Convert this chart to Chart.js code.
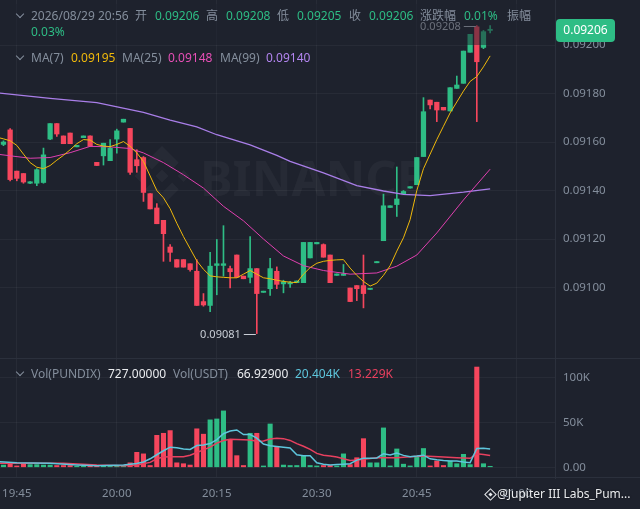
<!DOCTYPE html>
<html>
<head>
<meta charset="utf-8">
<script src="https://cdn.jsdelivr.net/npm/chart.js@4.4.1/dist/chart.umd.min.js"></script>
<style>
  html, body { margin: 0; padding: 0; background: #1e222d; }
  #wrap { position: relative; width: 640px; height: 509px; overflow: hidden; background: #1e222d;
          font-family: "Noto Sans", "Noto Sans CJK SC", sans-serif; }
  #priceCanvas { position: absolute; left: 0; top: 0; }
  #volCanvas { position: absolute; left: 0; top: 358px; }
  .t { position: absolute; font-size: 12px; line-height: 14px; white-space: nowrap; }
  .g { color: #848e9c; }
  .up { color: #2ebd85; }
  .w { color: #eaecef; }
  .chev { position: absolute; width: 5px; height: 5px; border-right: 1.3px solid #848e9c;
          border-bottom: 1.3px solid #848e9c; transform: rotate(45deg); }
  .hline { position: absolute; left: 0; width: 640px; height: 1px; background: #2b303c; }
  #shade { position: absolute; left: 0; top: 4px; width: 540px; height: 41px; background: rgba(30, 34, 45, 0.5); }
</style>
</head>
<body>
<div id="wrap">
  <canvas id="priceCanvas" width="640" height="358"></canvas>
  <canvas id="volCanvas" width="640" height="151"></canvas>
  <div class="hline" style="top:358px"></div>
  <div class="hline" style="top:477px"></div>

  <div id="shade"></div>
  <div class="chev" style="left:17px;top:11px"></div>
  <span class="t g" style="left:31px;top:9px">2026/08/29 20:56</span>
  <span class="t g" style="left:135px;top:9px">开</span>
  <span class="t up" style="left:155px;top:9px">0.09206</span>
  <span class="t g" style="left:206px;top:9px">高</span>
  <span class="t up" style="left:226px;top:9px">0.09208</span>
  <span class="t g" style="left:277px;top:9px">低</span>
  <span class="t up" style="left:297px;top:9px">0.09205</span>
  <span class="t g" style="left:349px;top:9px">收</span>
  <span class="t up" style="left:369px;top:9px">0.09206</span>
  <span class="t g" style="left:420px;top:9px">涨跌幅</span>
  <span class="t up" style="left:464px;top:9px">0.01%</span>
  <span class="t g" style="left:507px;top:9px">振幅</span>
  <span class="t up" style="left:31px;top:25px">0.03%</span>

  <div class="chev" style="left:17px;top:53px"></div>
  <span class="t g" style="left:31px;top:51px">MA(7)</span>
  <span class="t" style="left:71px;top:51px;color:#f0b90b">0.09195</span>
  <span class="t g" style="left:122px;top:51px">MA(25)</span>
  <span class="t" style="left:168px;top:51px;color:#e84fb7">0.09148</span>
  <span class="t g" style="left:220px;top:51px">MA(99)</span>
  <span class="t" style="left:266px;top:51px;color:#b385f0">0.09140</span>

  <div class="chev" style="left:17px;top:369px"></div>
  <span class="t g" style="left:31px;top:367px">Vol(PUNDIX)</span>
  <span class="t w" style="left:108px;top:367px">727.00000</span>
  <span class="t g" style="left:173px;top:367px">Vol(USDT)</span>
  <span class="t w" style="left:237px;top:367px">66.92900</span>
  <span class="t" style="left:295px;top:367px;color:#5ec6dc">20.404K</span>
  <span class="t" style="left:348px;top:367px;color:#e8405f">13.229K</span>

  <div style="position:absolute;left:486px;top:490px;width:7px;height:7px;border:1.4px solid #eaecef;transform:rotate(45deg)"></div>
  <div style="position:absolute;left:489px;top:493px;width:3px;height:3px;background:#eaecef;transform:rotate(45deg)"></div>
  <span class="t w" style="left:497px;top:487px;text-shadow:0 0 2px rgba(0,0,0,0.7)">@Jupiter III Labs_Pum...</span>
</div>

<script>
// 1분봉, 인덱스 0 = 19:43
const opens  = [0.09159,0.09165,0.09148,0.09147,0.09143,0.09143,0.091433,0.091612,0.091676,0.091625,
  0.091637,0.09158,0.091618,0.091625,0.091516,0.091543,0.091523,0.091612,0.091682,0.091656,
  0.091527,0.091536,0.091387,0.091328,0.091277,0.091167,0.091115,0.091115,0.091098,0.091067,
  0.090942,0.090926,0.091091,0.091091,0.091078,0.091134,0.091047,0.091042,0.091078,0.09098,
  0.090995,0.091067,0.091015,0.091015,0.09102,0.09102,0.091122,0.09118,0.091177,0.091134,
  0.09105,0.09105,0.090998,0.091008,0.091008,0.090992,0.091102,0.091193,0.09133,0.091342,
  0.091387,0.09141,0.091424,0.09154,0.091773,0.091764,0.091743,0.091728,0.091821,0.091842,
  0.09197,0.092075,0.09199,0.09206];
const highs  = [0.091605,0.091655,0.09148,0.09147,0.091437,0.09149,0.091575,0.091676,0.091676,0.091625,
  0.091637,0.091586,0.091625,0.091625,0.091516,0.091595,0.09161,0.091653,0.091694,0.091656,
  0.091568,0.09154,0.091387,0.091346,0.091277,0.091177,0.091115,0.091115,0.091098,0.091115,
  0.090975,0.091145,0.091198,0.091255,0.091088,0.091134,0.091047,0.09121,0.091078,0.090985,
  0.09112,0.091085,0.09103,0.091025,0.091027,0.091186,0.091186,0.091186,0.09118,0.091134,
  0.091056,0.091095,0.090998,0.091008,0.091134,0.090997,0.091107,0.091385,0.091337,0.091497,
  0.0914,0.091416,0.091536,0.091783,0.091773,0.091764,0.091743,0.091824,0.091872,0.091975,
  0.092044,0.09208,0.09206,0.09208];
const lows   = [0.091585,0.09144,0.09144,0.09143,0.091428,0.09142,0.09143,0.09161,0.091623,0.091593,
  0.091593,0.09158,0.091618,0.091582,0.091503,0.091505,0.091523,0.091554,0.091682,0.091466,
  0.091475,0.091355,0.091324,0.091263,0.091108,0.091108,0.091084,0.091084,0.091067,0.090926,
  0.090923,0.0909,0.09097,0.091047,0.090998,0.091042,0.091036,0.091019,0.09081,0.09098,
  0.090967,0.090995,0.090978,0.091,0.09102,0.09102,0.091122,0.09118,0.091125,0.09102,
  0.09105,0.09105,0.090942,0.090946,0.090916,0.090992,0.091102,0.091193,0.09133,0.091293,
  0.091387,0.09141,0.091424,0.09154,0.091736,0.091684,0.091732,0.091728,0.091821,0.091842,
  0.09197,0.091684,0.091985,0.09205];
const closes = [0.0916,0.091445,0.09145,0.091435,0.091436,0.091486,0.091547,0.091676,0.091633,0.091593,
  0.091593,0.091586,0.091625,0.091582,0.091503,0.091595,0.091575,0.091646,0.091694,0.091475,
  0.091502,0.091392,0.091324,0.091263,0.091222,0.091145,0.091084,0.091084,0.091074,0.090926,
  0.090928,0.091088,0.091098,0.091098,0.091065,0.091042,0.091036,0.091078,0.090975,0.090985,
  0.091078,0.091013,0.091023,0.09102,0.091027,0.091186,0.091186,0.091186,0.091125,0.09102,
  0.091056,0.091056,0.090942,0.090995,0.090975,0.090997,0.091107,0.091337,0.091337,0.091365,
  0.091396,0.091416,0.091536,0.091725,0.091753,0.091732,0.091732,0.091824,0.091835,0.091975,
  0.092044,0.091931,0.092055,0.09206];
const volumes = [2500,3500,1500,3500,3000,3000,2500,2500,2000,2000,
  2000,1000,1000,1000,1000,1000,1000,1000,1000,5000,
  16700,15000,2000,35700,38000,41000,5000,4000,2500,43000,
  37000,53000,54000,63000,30500,13000,2000,38000,38000,1500,
  48400,23000,2500,2000,2000,13000,2000,1500,2000,2000,
  1500,15000,3000,10700,32000,5000,5000,44000,1500,20500,
  3500,1500,12000,21000,1500,7000,2000,7000,4000,14500,
  3000,112000,4000,727];

// 이동평균선: [인덱스, 값]
const ma7Line = [[-1,0.09162],[0,0.091613],[1,0.091605],[2,0.091586],[3,0.09155],[4,0.091515],[5,0.091496],
  [6,0.09149],[7,0.091503],[8,0.091525],[9,0.091545],[10,0.091568],[11,0.091593],[12,0.09161],[13,0.091608],
  [14,0.09159],[15,0.091583],[16,0.091581],[17,0.09159],[18,0.091602],[19,0.091582],[20,0.091555],[21,0.09152],
  [22,0.09146],[23,0.0914],[24,0.09137],[25,0.091325],[26,0.091265],[27,0.09121],[28,0.09116],[29,0.09111],
  [30,0.091075],[31,0.091048],[32,0.091044],[33,0.091042],[34,0.09104],[35,0.09104],[36,0.091055],[37,0.09107],
  [38,0.091055],[39,0.09104],[40,0.091036],[41,0.09103],[42,0.091025],[43,0.091022],[44,0.09102],[45,0.091055],
  [46,0.091082],[47,0.0911],[48,0.091108],[49,0.091112],[50,0.091114],[51,0.091115],[52,0.09108],[53,0.09105],
  [54,0.091025],[55,0.091006],[56,0.091018],[57,0.09105],[58,0.09109],[59,0.09115],[60,0.091205],[61,0.09128],
  [62,0.0914],[63,0.09149],[64,0.09155],[65,0.09161],[66,0.091665],[67,0.09172],[68,0.091765],[69,0.09181],
  [70,0.09185],[71,0.09187],[72,0.09191],[73,0.091955]];
const ma25Line = [[-1,0.09155],[4,0.091533],[7,0.091536],[10,0.091556],[13,0.091582],[16,0.09158],[19,0.091573],
  [21,0.091555],[24,0.091515],[27,0.091465],[30,0.09141],[33,0.091335],[36,0.091275],[39,0.0912],[42,0.09113],
  [45,0.09109],[48,0.09107],[52,0.091055],[56,0.09106],[59,0.091088],[62,0.091134],[65,0.091225],[69,0.091361],
  [73,0.091488]];
const ma99Line = [[-1,0.091803],[7,0.09178],[14,0.091762],[21,0.091722],[25,0.09169],[29,0.091662],[32,0.09163],
  [37,0.091588],[41,0.091545],[43,0.09152],[48,0.091473],[53,0.09142],[57,0.091398],[60,0.091384],[64,0.091379],
  [69,0.091393],[73,0.091407]];
const volMa5Line = [[-1,6500],[2,5000],[7,4500],[11,2700],[14,1800],[18,2500],[20,4200],[21,6000],[22,9500],
  [23,14000],[24,18500],[25,22500],[26,21800],[27,20500],[28,20000],[29,24300],[30,25000],[31,26500],[32,31000],
  [33,37500],[34,40500],[35,41700],[36,36500],[37,36500],[38,32500],[39,26000],[40,24000],[42,22300],[43,21500],
  [44,14000],[45,13000],[46,13000],[47,5000],[48,3500],[49,2600],[50,3000],[51,3500],[52,4000],[53,8000],
  [54,10000],[55,10000],[56,10500],[57,15000],[58,13700],[59,16000],[60,13300],[61,11800],[62,12500],[63,13500],
  [64,9500],[65,8300],[66,7500],[67,7000],[68,7000],[69,6000],[70,5200],[71,21000],[72,21200],[73,20404]];
const volMa10Line = [[-1,4500],[4,4500],[9,4500],[14,2600],[18,1800],[20,2500],[22,5500],[23,9500],[24,11500],
  [25,11700],[27,11700],[28,13500],[29,16500],[30,19500],[31,22500],[32,27000],[33,30000],[34,31300],[37,30500],
  [38,29000],[39,29500],[40,31500],[41,32400],[42,32000],[43,30000],[44,26500],[45,23500],[46,20000],[47,15500],
  [48,13500],[49,12600],[50,11500],[51,9500],[52,7600],[53,8200],[54,9000],[55,9700],[56,10600],[59,10700],
  [61,11800],[63,12600],[66,11500],[68,10700],[70,10000],[71,15000],[72,14300],[73,13229]];

const timeTickIdx = [2, 17, 32, 47, 62, 77];
const timeTickLabels = ['19:45', '20:00', '20:15', '20:30', '20:45', '21:00'];
const priceTicks = [0.0910, 0.0912, 0.0914, 0.0916, 0.0918, 0.0920];
const volTicks = [0, 50000, 100000];
const volTickLabels = ['0.00', '50K', '100K'];

const UP = '#2ebd85', DOWN = '#f6465d';
const GRID = 'rgba(255,255,255,0.045)';
const TEXT = '#848e9c';
const X_MIN = -0.52, X_MAX = 82.73;

const candleColors = closes.map((c, i) => (c >= opens[i] ? UP : DOWN));
const pts = (arr) => arr.map(([x, y]) => ({ x, y }));

function xScaleOpts(showLabels) {
  return {
    type: 'linear', min: X_MIN, max: X_MAX, offset: false,
    grid: { color: GRID, offset: false, drawTicks: false },
    border: { display: false },
    ticks: {
      display: showLabels, color: TEXT, font: { family: 'Noto Sans', size: 11.5 },
      padding: 9, maxRotation: 0, autoSkip: false,
      callback: (v, i) => timeTickLabels[i],
    },
    afterBuildTicks: (s) => { s.ticks = timeTickIdx.map((v) => ({ value: v })); },
    afterFit: (s) => { s.height = showLabels ? 31 : 0; s.paddingLeft = 0; s.paddingRight = 0; },
  };
}

function lineSet(data, color, width) {
  return { type: 'line', data: pts(data), borderColor: color, borderWidth: width,
           pointRadius: 0, tension: 0, fill: false };
}

// 바이낸스 워터마크 로고
function drawLogo(ctx, cx, cy, r) {
  const dia = (x, y, h) => {
    ctx.beginPath();
    ctx.moveTo(x, y - h); ctx.lineTo(x + h, y); ctx.lineTo(x, y + h); ctx.lineTo(x - h, y);
    ctx.closePath(); ctx.fill();
  };
  dia(cx, cy, r * 0.22);
  dia(cx - r * 0.72, cy, r * 0.2);
  dia(cx + r * 0.72, cy, r * 0.2);
  [-1, 1].forEach((s) => {
    ctx.beginPath();
    ctx.moveTo(cx, cy + s * r);
    ctx.lineTo(cx + r * 0.56, cy + s * r * 0.44);
    ctx.lineTo(cx + r * 0.34, cy + s * r * 0.22);
    ctx.lineTo(cx, cy + s * r * 0.56);
    ctx.lineTo(cx - r * 0.34, cy + s * r * 0.22);
    ctx.lineTo(cx - r * 0.56, cy + s * r * 0.44);
    ctx.closePath(); ctx.fill();
  });
}

const priceExtras = {
  id: 'priceExtras',
  beforeDatasetsDraw(chart) {
    const ctx = chart.ctx;
    ctx.save();
    ctx.fillStyle = 'rgba(255,255,255,0.04)';
    drawLogo(ctx, 162, 176, 30);
    ctx.font = 'bold 49px "Noto Sans"';
    ctx.textBaseline = 'alphabetic';
    ctx.fillText('BINANCE', 200, 196);
    ctx.restore();
  },
  afterDraw(chart) {
    const ctx = chart.ctx;
    const xs = chart.scales.x, ys = chart.scales.y;
    ctx.save();
    ctx.font = '11px "Noto Sans"';
    ctx.textBaseline = 'middle';
    ctx.textAlign = 'right';
    // 최고가 / 최저가 표시
    const hi = highs.indexOf(Math.max(...highs));
    const lo = lows.indexOf(Math.min(...lows));
    [[hi, highs[hi], '#b7bdc6'], [lo, lows[lo], '#c9ced6']].forEach(([i, v, col]) => {
      const x = xs.getPixelForValue(i), y = Math.round(ys.getPixelForValue(v)) + 0.5;
      ctx.strokeStyle = col; ctx.lineWidth = 1;
      ctx.beginPath(); ctx.moveTo(x - 13, y); ctx.lineTo(x - 1, y); ctx.stroke();
      ctx.fillStyle = col;
      ctx.fillText(v.toFixed(5), x - 16, y);
    });
    // 현재가 박스
    const last = closes[closes.length - 1];
    const y = ys.getPixelForValue(last);
    ctx.fillStyle = UP;
    ctx.beginPath();
    ctx.roundRect(556, y - 11.5, 59, 23, 4);
    ctx.fill();
    ctx.fillStyle = '#ffffff';
    ctx.textAlign = 'center';
    ctx.font = '12px "Noto Sans"';
    ctx.fillText(last.toFixed(5), 585.5, y);
    ctx.restore();
  },
};

new Chart(document.getElementById('priceCanvas'), {
  type: 'bar',
  data: {
    datasets: [
      lineSet(ma7Line, '#f0b90b', 1),
      lineSet(ma25Line, '#e040b0', 1),
      lineSet(ma99Line, '#a97ee8', 1.3),
      {
        data: opens.map((o, i) => ({ x: i, y: [o, closes[i]] })),
        backgroundColor: candleColors, borderWidth: 0, barThickness: 4.6,
        grouped: false, minBarLength: 1.2,
      },
      {
        data: lows.map((l, i) => ({ x: i, y: [l, highs[i]] })),
        backgroundColor: candleColors, borderWidth: 0, barThickness: 1,
        grouped: false, minBarLength: 1,
      },
    ],
  },
  options: {
    responsive: false, animation: false, events: [],
    layout: { padding: 0 },
    plugins: { legend: { display: false }, tooltip: { enabled: false } },
    scales: {
      x: xScaleOpts(false),
      y: {
        position: 'right', min: 0.0907093, max: 0.0921856,
        grid: { color: GRID, drawTicks: false },
        border: { color: '#2b303c' },
        ticks: { color: TEXT, font: { family: 'Noto Sans', size: 11.5 }, padding: 8,
                 callback: (v) => v.toFixed(5) },
        afterBuildTicks: (s) => { s.ticks = priceTicks.map((v) => ({ value: v })); },
        afterFit: (s) => { s.width = 85; s.paddingTop = 0; s.paddingBottom = 0; },
      },
    },
  },
  plugins: [priceExtras],
});

new Chart(document.getElementById('volCanvas'), {
  type: 'bar',
  data: {
    datasets: [
      lineSet(volMa5Line, '#5ec6dc', 1.5),
      lineSet(volMa10Line, '#e8405f', 1.5),
      {
        data: volumes.map((v, i) => ({ x: i, y: v })),
        backgroundColor: candleColors, borderWidth: 0, barThickness: 4.4,
        grouped: false, minBarLength: 1,
      },
    ],
  },
  options: {
    responsive: false, animation: false, events: [],
    layout: { padding: 0 },
    plugins: { legend: { display: false }, tooltip: { enabled: false } },
    scales: {
      x: xScaleOpts(true),
      y: {
        position: 'right', min: -11960, max: 122100,
        grid: { color: GRID, drawTicks: false },
        border: { color: '#2b303c' },
        ticks: { color: TEXT, font: { family: 'Noto Sans', size: 11.5 }, padding: 8,
                 callback: (v, i) => volTickLabels[i] },
        afterBuildTicks: (s) => { s.ticks = volTicks.map((v) => ({ value: v })); },
        afterFit: (s) => { s.width = 85; s.paddingTop = 0; s.paddingBottom = 0; },
      },
    },
  },
});
</script>
</body>
</html>
